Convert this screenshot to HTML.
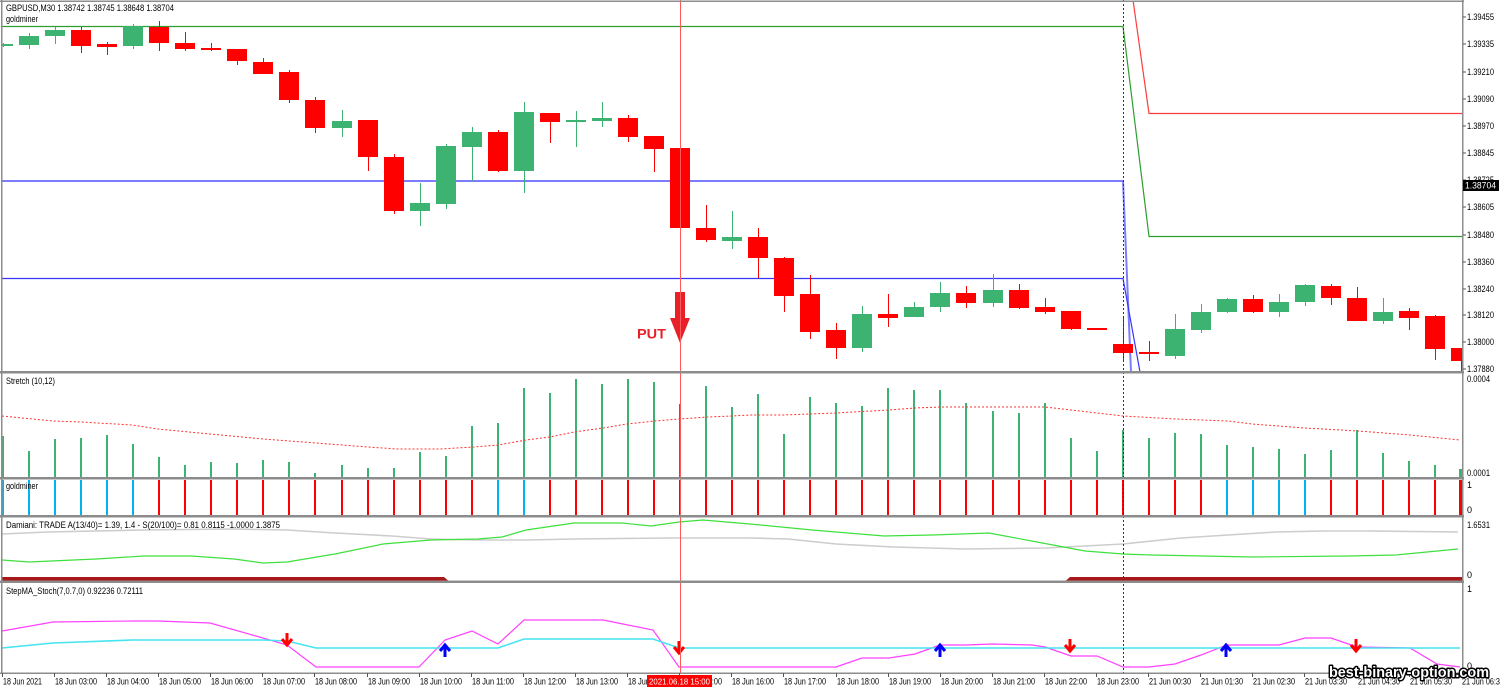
<!DOCTYPE html>
<html><head><meta charset="utf-8">
<style>
html,body{margin:0;padding:0;background:#fff;width:1500px;height:690px;overflow:hidden}
svg{display:block}
text{font-family:"Liberation Sans",sans-serif;font-size:9px;fill:#000}
</style></head><body>
<svg width="1500" height="690" viewBox="0 0 1500 690" xmlns="http://www.w3.org/2000/svg">
<defs>
<clipPath id="cm"><rect x="2" y="2" width="1460" height="369"/></clipPath>
<clipPath id="cs"><rect x="2" y="373" width="1460" height="104"/></clipPath>
</defs>
<rect x="0" y="0" width="1500" height="690" fill="#fff"/>

<!-- MAIN CHART -->
<g clip-path="url(#cm)">
<polyline points="2,26.5 1123,26.5 1149,236.5 1462,236.5" stroke="#2E9E2E" stroke-width="1.2" fill="none"/>
<polyline points="2,181 1123,181 1131,372" stroke="#7C7CFF" stroke-width="2" fill="none"/>
<polyline points="2,278.5 1123,278.5 1140,372" stroke="#3535FF" stroke-width="1.2" fill="none"/>
<polyline points="1133,0 1149,113.5 1462,113.5" stroke="#FF3B3B" stroke-width="1.2" fill="none"/>

<g fill="#3CB371" shape-rendering="crispEdges">
<rect x="3" y="43" width="1" height="4"/><rect x="-7" y="44" width="20" height="2"/>
<rect x="29" y="33" width="1" height="16"/><rect x="19" y="36" width="20" height="9"/>
<rect x="55" y="27" width="1" height="17"/><rect x="45" y="30" width="20" height="6"/>
<rect x="133" y="24" width="1" height="25"/><rect x="123" y="26" width="20" height="20"/>
<rect x="342" y="110" width="1" height="27"/><rect x="332" y="121" width="20" height="7"/>
<rect x="420" y="183" width="1" height="43"/><rect x="410" y="203" width="20" height="8"/>
<rect x="446" y="144" width="1" height="65"/><rect x="436" y="146" width="20" height="58"/>
<rect x="472" y="127" width="1" height="54"/><rect x="462" y="132" width="20" height="15"/>
<rect x="524" y="102" width="1" height="91"/><rect x="514" y="112" width="20" height="59"/>
<rect x="576" y="111" width="1" height="36"/><rect x="566" y="120" width="20" height="2"/>
<rect x="602" y="102" width="1" height="25"/><rect x="592" y="118" width="20" height="3"/>
<rect x="732" y="211" width="1" height="38"/><rect x="722" y="237" width="20" height="4"/>
<rect x="862" y="306" width="1" height="46"/><rect x="852" y="314" width="20" height="34"/>
<rect x="914" y="302" width="1" height="15"/><rect x="904" y="307" width="20" height="10"/>
<rect x="940" y="282" width="1" height="30"/><rect x="930" y="293" width="20" height="14"/>
<rect x="993" y="274" width="1" height="33"/><rect x="983" y="290" width="20" height="13"/>
<rect x="1175" y="314" width="1" height="45"/><rect x="1165" y="329" width="20" height="27"/>
<rect x="1201" y="304" width="1" height="29"/><rect x="1191" y="312" width="20" height="18"/>
<rect x="1227" y="298" width="1" height="15"/><rect x="1217" y="299" width="20" height="13"/>
<rect x="1279" y="294" width="1" height="23"/><rect x="1269" y="302" width="20" height="10"/>
<rect x="1305" y="284" width="1" height="22"/><rect x="1295" y="285" width="20" height="17"/>
<rect x="1383" y="298" width="1" height="26"/><rect x="1373" y="312" width="20" height="9"/>
</g>
<g fill="#FF0000" shape-rendering="crispEdges">
<rect x="81" y="27" width="1" height="26"/><rect x="71" y="30" width="20" height="16"/>
<rect x="107" y="42" width="1" height="13"/><rect x="97" y="44" width="20" height="3"/>
<rect x="159" y="21" width="1" height="30"/><rect x="149" y="27" width="20" height="16"/>
<rect x="185" y="32" width="1" height="19"/><rect x="175" y="43" width="20" height="6"/>
<rect x="211" y="43" width="1" height="8"/><rect x="201" y="48" width="20" height="2"/>
<rect x="237" y="49" width="1" height="16"/><rect x="227" y="49" width="20" height="12"/>
<rect x="263" y="58" width="1" height="16"/><rect x="253" y="62" width="20" height="12"/>
<rect x="289" y="70" width="1" height="33"/><rect x="279" y="72" width="20" height="28"/>
<rect x="315" y="97" width="1" height="36"/><rect x="305" y="100" width="20" height="28"/>
<rect x="368" y="120" width="1" height="51"/><rect x="358" y="120" width="20" height="37"/>
<rect x="394" y="154" width="1" height="60"/><rect x="384" y="157" width="20" height="54"/>
<rect x="498" y="130" width="1" height="42"/><rect x="488" y="132" width="20" height="39"/>
<rect x="550" y="113" width="1" height="30"/><rect x="540" y="113" width="20" height="9"/>
<rect x="628" y="115" width="1" height="27"/><rect x="618" y="118" width="20" height="19"/>
<rect x="654" y="136" width="1" height="36"/><rect x="644" y="136" width="20" height="13"/>
<rect x="670" y="148" width="20" height="80"/>
<rect x="706" y="205" width="1" height="37"/><rect x="696" y="228" width="20" height="12"/>
<rect x="758" y="228" width="1" height="50"/><rect x="748" y="237" width="20" height="21"/>
<rect x="784" y="257" width="1" height="55"/><rect x="774" y="258" width="20" height="38"/>
<rect x="810" y="275" width="1" height="64"/><rect x="800" y="294" width="20" height="38"/>
<rect x="836" y="323" width="1" height="36"/><rect x="826" y="330" width="20" height="18"/>
<rect x="888" y="294" width="1" height="33"/><rect x="878" y="314" width="20" height="4"/>
<rect x="966" y="286" width="1" height="22"/><rect x="956" y="293" width="20" height="10"/>
<rect x="1019" y="284" width="1" height="25"/><rect x="1009" y="290" width="20" height="18"/>
<rect x="1045" y="298" width="1" height="16"/><rect x="1035" y="307" width="20" height="5"/>
<rect x="1071" y="311" width="1" height="19"/><rect x="1061" y="311" width="20" height="18"/>
<rect x="1087" y="328" width="20" height="2"/>
<rect x="1123" y="318" width="1" height="42"/><rect x="1113" y="344" width="20" height="9"/>
<rect x="1149" y="341" width="1" height="20"/><rect x="1139" y="352" width="20" height="2"/>
<rect x="1253" y="295" width="1" height="18"/><rect x="1243" y="299" width="20" height="13"/>
<rect x="1331" y="284" width="1" height="21"/><rect x="1321" y="286" width="20" height="12"/>
<rect x="1357" y="287" width="1" height="34"/><rect x="1347" y="298" width="20" height="23"/>
<rect x="1409" y="308" width="1" height="22"/><rect x="1399" y="311" width="20" height="7"/>
<rect x="1435" y="315" width="1" height="45"/><rect x="1425" y="316" width="20" height="33"/>
<rect x="1461" y="348" width="1" height="24"/><rect x="1451" y="348" width="20" height="13"/>
</g>
<!-- PUT arrow -->
<rect x="675" y="292" width="10" height="27" fill="#E8202A"/>
<polygon points="670,318 690,318 680,343" fill="#E8202A"/>
<text x="637" y="338.5" style="font-size:14px;font-weight:bold;fill:#E8202A" textLength="29" lengthAdjust="spacingAndGlyphs">PUT</text>
</g>
<text x="6" y="11" textLength="168" lengthAdjust="spacingAndGlyphs">GBPUSD,M30  1.38742 1.38745 1.38648 1.38704</text>
<text x="6" y="22" textLength="32" lengthAdjust="spacingAndGlyphs">goldminer</text>

<!-- STRETCH PANEL -->
<g fill="#3CB371" shape-rendering="crispEdges">
<rect x="2" y="436" width="2" height="41"/>
<rect x="28" y="451" width="2" height="26"/>
<rect x="54" y="439" width="2" height="38"/>
<rect x="80" y="438" width="2" height="39"/>
<rect x="106" y="435" width="2" height="42"/>
<rect x="132" y="444" width="2" height="33"/>
<rect x="158" y="457" width="2" height="20"/>
<rect x="184" y="465" width="2" height="12"/>
<rect x="210" y="462" width="2" height="15"/>
<rect x="236" y="463" width="2" height="14"/>
<rect x="262" y="460" width="2" height="17"/>
<rect x="288" y="462" width="2" height="15"/>
<rect x="314" y="473" width="2" height="4"/>
<rect x="341" y="465" width="2" height="12"/>
<rect x="367" y="468" width="2" height="9"/>
<rect x="393" y="468" width="2" height="9"/>
<rect x="419" y="452" width="2" height="25"/>
<rect x="445" y="456" width="2" height="21"/>
<rect x="471" y="426" width="2" height="51"/>
<rect x="497" y="423" width="2" height="54"/>
<rect x="523" y="388" width="2" height="89"/>
<rect x="549" y="393" width="2" height="84"/>
<rect x="575" y="379" width="2" height="98"/>
<rect x="601" y="384" width="2" height="93"/>
<rect x="627" y="379" width="2" height="98"/>
<rect x="653" y="382" width="2" height="95"/>
<rect x="679" y="404" width="2" height="73" fill="#5b7a3c"/>
<rect x="705" y="386" width="2" height="91"/>
<rect x="731" y="407" width="2" height="70"/>
<rect x="757" y="394" width="2" height="83"/>
<rect x="783" y="434" width="2" height="43"/>
<rect x="809" y="397" width="2" height="80"/>
<rect x="835" y="403" width="2" height="74"/>
<rect x="861" y="406" width="2" height="71"/>
<rect x="887" y="388" width="2" height="89"/>
<rect x="913" y="390" width="2" height="87"/>
<rect x="939" y="390" width="2" height="87"/>
<rect x="965" y="403" width="2" height="74"/>
<rect x="992" y="411" width="2" height="66"/>
<rect x="1018" y="413" width="2" height="64"/>
<rect x="1044" y="403" width="2" height="74"/>
<rect x="1070" y="438" width="2" height="39"/>
<rect x="1096" y="451" width="2" height="26"/>
<rect x="1122" y="430" width="2" height="47"/>
<rect x="1148" y="438" width="2" height="39"/>
<rect x="1174" y="433" width="2" height="44"/>
<rect x="1200" y="434" width="2" height="43"/>
<rect x="1226" y="445" width="2" height="32"/>
<rect x="1252" y="447" width="2" height="30"/>
<rect x="1278" y="449" width="2" height="28"/>
<rect x="1304" y="454" width="2" height="23"/>
<rect x="1330" y="450" width="2" height="27"/>
<rect x="1356" y="430" width="2" height="47"/>
<rect x="1382" y="453" width="2" height="24"/>
<rect x="1408" y="461" width="2" height="16"/>
<rect x="1434" y="465" width="2" height="12"/>
<rect x="1459" y="469" width="3" height="8"/>
</g>
<polyline clip-path="url(#cs)" fill="none" stroke="#FF3030" stroke-width="1" stroke-dasharray="2,2" points="2,416 53,421 81,422 132,425 158,429 210,434 263,439 316,443 368,447 397,449 440,449 474,447 498,445 526,440 550,437 574,432 603,428 627,424 655,421 679,419 708,417 732,416 750,415 783,415 836,413 889,410 915,408 941,407 1018,407 1045,407 1071,410 1123,416 1176,419 1228,421 1252,424 1305,428 1358,431 1410,435 1460,440"/>
<text x="6" y="384" textLength="49" lengthAdjust="spacingAndGlyphs">Stretch (10,12)</text>

<!-- GOLDMINER PANEL -->
<g shape-rendering="crispEdges">
<g fill="#00B4F0">
<rect x="2" y="480" width="2" height="35"/><rect x="28" y="480" width="2" height="35"/><rect x="54" y="480" width="2" height="35"/><rect x="80" y="480" width="2" height="35"/><rect x="106" y="480" width="2" height="35"/><rect x="132" y="480" width="2" height="35"/>
<rect x="497" y="480" width="2" height="35"/><rect x="523" y="480" width="2" height="35"/>
<rect x="1226" y="480" width="2" height="35"/><rect x="1252" y="480" width="2" height="35"/><rect x="1278" y="480" width="2" height="35"/><rect x="1304" y="480" width="2" height="35"/>
</g>
<g fill="#FF0000">
<rect x="158" y="480" width="2" height="35"/><rect x="184" y="480" width="2" height="35"/><rect x="210" y="480" width="2" height="35"/><rect x="236" y="480" width="2" height="35"/><rect x="262" y="480" width="2" height="35"/><rect x="288" y="480" width="2" height="35"/><rect x="314" y="480" width="2" height="35"/><rect x="341" y="480" width="2" height="35"/><rect x="367" y="480" width="2" height="35"/><rect x="393" y="480" width="2" height="35"/><rect x="419" y="480" width="2" height="35"/><rect x="445" y="480" width="2" height="35"/><rect x="471" y="480" width="2" height="35"/>
<rect x="549" y="480" width="2" height="35"/><rect x="575" y="480" width="2" height="35"/><rect x="601" y="480" width="2" height="35"/><rect x="627" y="480" width="2" height="35"/><rect x="653" y="480" width="2" height="35"/><rect x="679" y="480" width="2" height="35"/><rect x="705" y="480" width="2" height="35"/><rect x="731" y="480" width="2" height="35"/><rect x="757" y="480" width="2" height="35"/><rect x="783" y="480" width="2" height="35"/><rect x="809" y="480" width="2" height="35"/><rect x="835" y="480" width="2" height="35"/><rect x="861" y="480" width="2" height="35"/><rect x="887" y="480" width="2" height="35"/><rect x="913" y="480" width="2" height="35"/><rect x="939" y="480" width="2" height="35"/><rect x="965" y="480" width="2" height="35"/><rect x="992" y="480" width="2" height="35"/><rect x="1018" y="480" width="2" height="35"/><rect x="1044" y="480" width="2" height="35"/><rect x="1070" y="480" width="2" height="35"/><rect x="1096" y="480" width="2" height="35"/><rect x="1122" y="480" width="2" height="35"/><rect x="1148" y="480" width="2" height="35"/><rect x="1174" y="480" width="2" height="35"/><rect x="1200" y="480" width="2" height="35"/>
<rect x="1330" y="480" width="2" height="35"/><rect x="1356" y="480" width="2" height="35"/><rect x="1382" y="480" width="2" height="35"/><rect x="1408" y="480" width="2" height="35"/><rect x="1434" y="480" width="2" height="35"/><rect x="1459" y="480" width="3" height="35"/>
</g>
</g>
<text x="6" y="489" textLength="32" lengthAdjust="spacingAndGlyphs">goldminer</text>

<!-- DAMIANI PANEL -->
<polyline fill="none" stroke="#CDCDCD" stroke-width="1.6" points="2,534 48,532 144,530 234,529 287,530 335,533 392,536 431,539 478,540 526,540 574,539 670,538 750,538 788,539 836,544 894,547 965,549 1047,548 1085,546 1123,544 1181,538 1228,535 1276,532 1324,531 1372,531 1458,532"/>
<polyline fill="none" stroke="#3EE03E" stroke-width="1.2" points="2,560 29,562 96,559 144,556 191,556 234,559 263,563 287,562 335,554 383,544 431,540 478,539 502,537 526,530 574,523 622,523 651,526 679,522 703,520 750,524 812,530 884,536 932,535 989,533 1037,542 1085,551 1123,554 1152,555 1252,557 1348,556 1396,555 1458,549"/>
<polygon points="2,577 444,577 448,580.5 2,580.5" fill="#A81818"/>
<polygon points="1066,580.5 1070,577 1462,577 1462,580.5" fill="#A81818"/>
<text x="6" y="528" textLength="274" lengthAdjust="spacingAndGlyphs">Damiani: TRADE  A(13/40)= 1.39, 1.4 - S(20/100)= 0.81  0.8115 -1.0000 1.3875</text>

<!-- STEPMA PANEL -->
<polyline fill="none" stroke="#FF40FF" stroke-width="1.2" points="2,631 53,622 132,621 158,621 210,623 263,638 287,645 316,667 419,667 445,640 472,631 498,644 524,620 603,620 653,630 679,667 836,667 862,658 889,658 915,654 940,645 965,645 993,644 1032,645 1045,647 1071,656 1097,656 1123,667 1149,667 1175,664 1201,655 1227,645 1279,645 1305,638 1331,638 1357,647 1410,648 1437,664 1460,667"/>
<polyline fill="none" stroke="#44E4F0" stroke-width="1.6" points="2,648 53,643 132,640 263,640 287,641 316,648 498,648 524,639 653,639 679,648 1460,648"/>
<g fill="none" stroke-width="3" stroke-linejoin="miter">
<path d="M287 633 V645 M282 639 L287 645 L292 639" stroke="#FF0000"/>
<path d="M679 641 V653 M674 647 L679 653 L684 647" stroke="#FF0000"/>
<path d="M1070 639 V651 M1065 645 L1070 651 L1075 645" stroke="#FF0000"/>
<path d="M1356 639 V651 M1351 645 L1356 651 L1361 645" stroke="#FF0000"/>
<path d="M445 657 V645 M440 651 L445 645 L450 651" stroke="#0000FF"/>
<path d="M940 657 V645 M935 651 L940 645 L945 651" stroke="#0000FF"/>
<path d="M1226 657 V645 M1221 651 L1226 645 L1231 651" stroke="#0000FF"/>
</g>
<text x="6" y="594" textLength="137" lengthAdjust="spacingAndGlyphs">StepMA_Stoch(7,0.7,0) 0.92236 0.72111</text>

<!-- VERTICAL LINES -->
<line x1="680.5" y1="0" x2="680.5" y2="673" stroke="#FF5A5A" stroke-width="1"/>
<line x1="1123.5" y1="0" x2="1123.5" y2="673" stroke="#333" stroke-width="1" stroke-dasharray="2,2"/>

<!-- FRAMES / SEPARATORS -->
<g fill="#8C8C8C" shape-rendering="crispEdges">
<rect x="0" y="0.5" width="1464" height="1.5"/>
<rect x="1" y="0" width="1.5" height="674"/>
<rect x="1462" y="0" width="1.5" height="674"/>
<rect x="0" y="371" width="1464" height="2.5"/>
<rect x="0" y="477" width="1464" height="2.5"/>
<rect x="0" y="515" width="1464" height="2.5"/>
<rect x="0" y="580.5" width="1464" height="2.5"/>
<rect x="0" y="672.5" width="1464" height="1.5"/>
</g>

<!-- RIGHT AXIS -->
<g stroke="#555" stroke-width="1" shape-rendering="crispEdges">
<line x1="1463" y1="17" x2="1466" y2="17"/><line x1="1463" y1="44" x2="1466" y2="44"/><line x1="1463" y1="72" x2="1466" y2="72"/><line x1="1463" y1="99" x2="1466" y2="99"/><line x1="1463" y1="126" x2="1466" y2="126"/><line x1="1463" y1="153" x2="1466" y2="153"/><line x1="1463" y1="180" x2="1466" y2="180"/><line x1="1463" y1="207" x2="1466" y2="207"/><line x1="1463" y1="235" x2="1466" y2="235"/><line x1="1463" y1="262" x2="1466" y2="262"/><line x1="1463" y1="289" x2="1466" y2="289"/><line x1="1463" y1="315" x2="1466" y2="315"/><line x1="1463" y1="342" x2="1466" y2="342"/><line x1="1463" y1="369" x2="1466" y2="369"/>
</g>
<g>
<text x="1467" y="20" textLength="27" lengthAdjust="spacingAndGlyphs">1.39455</text>
<text x="1467" y="47" textLength="27" lengthAdjust="spacingAndGlyphs">1.39335</text>
<text x="1467" y="75" textLength="27" lengthAdjust="spacingAndGlyphs">1.39210</text>
<text x="1467" y="102" textLength="27" lengthAdjust="spacingAndGlyphs">1.39090</text>
<text x="1467" y="129" textLength="27" lengthAdjust="spacingAndGlyphs">1.38970</text>
<text x="1467" y="156" textLength="27" lengthAdjust="spacingAndGlyphs">1.38845</text>
<text x="1467" y="183" textLength="27" lengthAdjust="spacingAndGlyphs">1.38725</text>
<text x="1467" y="210" textLength="27" lengthAdjust="spacingAndGlyphs">1.38605</text>
<text x="1467" y="238" textLength="27" lengthAdjust="spacingAndGlyphs">1.38480</text>
<text x="1467" y="265" textLength="27" lengthAdjust="spacingAndGlyphs">1.38360</text>
<text x="1467" y="292" textLength="27" lengthAdjust="spacingAndGlyphs">1.38240</text>
<text x="1467" y="318" textLength="27" lengthAdjust="spacingAndGlyphs">1.38120</text>
<text x="1467" y="345" textLength="27" lengthAdjust="spacingAndGlyphs">1.38000</text>
<text x="1467" y="372" textLength="27" lengthAdjust="spacingAndGlyphs">1.37880</text>
</g>
<rect x="1463" y="180" width="36" height="11" fill="#000"/>
<text x="1465" y="188.5" style="fill:#fff" textLength="31" lengthAdjust="spacingAndGlyphs">1.38704</text>
<text x="1467" y="382" textLength="23" lengthAdjust="spacingAndGlyphs">0.0004</text>
<text x="1467" y="476" textLength="23" lengthAdjust="spacingAndGlyphs">0.0001</text>
<text x="1467" y="488">1</text>
<text x="1467" y="513">0</text>
<text x="1467" y="528" textLength="23" lengthAdjust="spacingAndGlyphs">1.6531</text>
<text x="1467" y="578">0</text>
<text x="1467" y="592">1</text>
<text x="1467" y="669">0</text>

<!-- TIME AXIS -->
<g stroke="#555" stroke-width="1" shape-rendering="crispEdges">
<line x1="2.5" y1="673" x2="2.5" y2="677"/><line x1="54.5" y1="673" x2="54.5" y2="677"/><line x1="106.5" y1="673" x2="106.5" y2="677"/><line x1="158.5" y1="673" x2="158.5" y2="677"/><line x1="210.5" y1="673" x2="210.5" y2="677"/><line x1="262.5" y1="673" x2="262.5" y2="677"/><line x1="314.5" y1="673" x2="314.5" y2="677"/><line x1="367.5" y1="673" x2="367.5" y2="677"/><line x1="419.5" y1="673" x2="419.5" y2="677"/><line x1="471.5" y1="673" x2="471.5" y2="677"/><line x1="523.5" y1="673" x2="523.5" y2="677"/><line x1="575.5" y1="673" x2="575.5" y2="677"/><line x1="627.5" y1="673" x2="627.5" y2="677"/><line x1="679.5" y1="673" x2="679.5" y2="677"/><line x1="731.5" y1="673" x2="731.5" y2="677"/><line x1="783.5" y1="673" x2="783.5" y2="677"/><line x1="836.5" y1="673" x2="836.5" y2="677"/><line x1="888.5" y1="673" x2="888.5" y2="677"/><line x1="940.5" y1="673" x2="940.5" y2="677"/><line x1="992.5" y1="673" x2="992.5" y2="677"/><line x1="1044.5" y1="673" x2="1044.5" y2="677"/><line x1="1096.5" y1="673" x2="1096.5" y2="677"/><line x1="1148.5" y1="673" x2="1148.5" y2="677"/><line x1="1200.5" y1="673" x2="1200.5" y2="677"/><line x1="1252.5" y1="673" x2="1252.5" y2="677"/><line x1="1304.5" y1="673" x2="1304.5" y2="677"/><line x1="1357.5" y1="673" x2="1357.5" y2="677"/><line x1="1409.5" y1="673" x2="1409.5" y2="677"/><line x1="1461.5" y1="673" x2="1461.5" y2="677"/>
</g>
<g style="font-size:8.5px">
<text x="3" y="684.5" textLength="39" lengthAdjust="spacingAndGlyphs">18 Jun 2021</text>
<text x="55" y="684.5" textLength="42" lengthAdjust="spacingAndGlyphs">18 Jun 03:00</text>
<text x="107" y="684.5" textLength="42" lengthAdjust="spacingAndGlyphs">18 Jun 04:00</text>
<text x="159" y="684.5" textLength="42" lengthAdjust="spacingAndGlyphs">18 Jun 05:00</text>
<text x="211" y="684.5" textLength="42" lengthAdjust="spacingAndGlyphs">18 Jun 06:00</text>
<text x="263" y="684.5" textLength="42" lengthAdjust="spacingAndGlyphs">18 Jun 07:00</text>
<text x="315" y="684.5" textLength="42" lengthAdjust="spacingAndGlyphs">18 Jun 08:00</text>
<text x="368" y="684.5" textLength="42" lengthAdjust="spacingAndGlyphs">18 Jun 09:00</text>
<text x="420" y="684.5" textLength="42" lengthAdjust="spacingAndGlyphs">18 Jun 10:00</text>
<text x="472" y="684.5" textLength="42" lengthAdjust="spacingAndGlyphs">18 Jun 11:00</text>
<text x="524" y="684.5" textLength="42" lengthAdjust="spacingAndGlyphs">18 Jun 12:00</text>
<text x="576" y="684.5" textLength="42" lengthAdjust="spacingAndGlyphs">18 Jun 13:00</text>
<text x="628" y="684.5" textLength="42" lengthAdjust="spacingAndGlyphs">18 Jun 14:00</text>
<text x="680" y="684.5" textLength="42" lengthAdjust="spacingAndGlyphs">18 Jun 15:00</text>
<text x="732" y="684.5" textLength="42" lengthAdjust="spacingAndGlyphs">18 Jun 16:00</text>
<text x="784" y="684.5" textLength="42" lengthAdjust="spacingAndGlyphs">18 Jun 17:00</text>
<text x="837" y="684.5" textLength="42" lengthAdjust="spacingAndGlyphs">18 Jun 18:00</text>
<text x="889" y="684.5" textLength="42" lengthAdjust="spacingAndGlyphs">18 Jun 19:00</text>
<text x="941" y="684.5" textLength="42" lengthAdjust="spacingAndGlyphs">18 Jun 20:00</text>
<text x="993" y="684.5" textLength="42" lengthAdjust="spacingAndGlyphs">18 Jun 21:00</text>
<text x="1045" y="684.5" textLength="42" lengthAdjust="spacingAndGlyphs">18 Jun 22:00</text>
<text x="1097" y="684.5" textLength="42" lengthAdjust="spacingAndGlyphs">18 Jun 23:00</text>
<text x="1149" y="684.5" textLength="42" lengthAdjust="spacingAndGlyphs">21 Jun 00:30</text>
<text x="1201" y="684.5" textLength="42" lengthAdjust="spacingAndGlyphs">21 Jun 01:30</text>
<text x="1253" y="684.5" textLength="42" lengthAdjust="spacingAndGlyphs">21 Jun 02:30</text>
<text x="1305" y="684.5" textLength="42" lengthAdjust="spacingAndGlyphs">21 Jun 03:30</text>
<text x="1358" y="684.5" textLength="42" lengthAdjust="spacingAndGlyphs">21 Jun 04:30</text>
<text x="1410" y="684.5" textLength="42" lengthAdjust="spacingAndGlyphs">21 Jun 05:30</text>
<text x="1462" y="684.5" textLength="42" lengthAdjust="spacingAndGlyphs">21 Jun 06:30</text>
</g>
<rect x="647" y="675" width="65" height="12" fill="#FF0000"/>
<text x="649" y="684.5" style="font-size:8.5px;fill:#fff" textLength="61" lengthAdjust="spacingAndGlyphs">2021.06.18 15:00</text>

<!-- WATERMARK -->
<text x="1329" y="677" style="font-size:15px;font-weight:bold;fill:#fff;stroke:#000;stroke-width:3;paint-order:stroke;stroke-linejoin:round" textLength="160" lengthAdjust="spacingAndGlyphs">best-binary-option.com</text>
</svg>
</body></html>
